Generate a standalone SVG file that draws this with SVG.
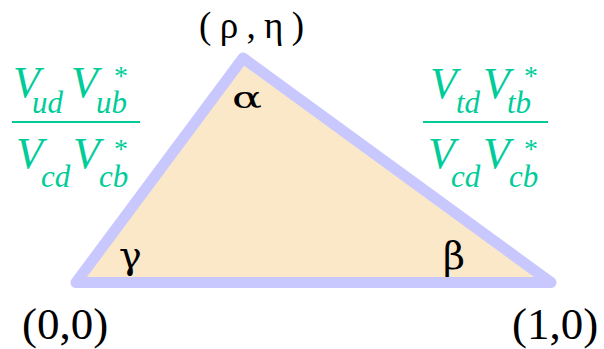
<svg xmlns="http://www.w3.org/2000/svg" width="604" height="349" viewBox="0 0 604 349">
<style>
.tri{fill:#fbe8c9;stroke:#c8c8ff;stroke-width:11;stroke-linejoin:round}
.lbl{font-family:"Liberation Serif","DejaVu Serif","Times New Roman",serif;fill:#000}
.gr{font-family:"DejaVu Serif","Liberation Serif",serif;fill:#000}
.v{font-family:"Liberation Serif","DejaVu Serif",serif;font-style:italic;fill:#00cc99;font-size:44px}
.s{font-family:"Liberation Serif","DejaVu Serif",serif;font-style:italic;fill:#00cc99;font-size:31px}
.st{font-family:"Liberation Serif","DejaVu Serif",serif;fill:#00cc99;font-size:28px}
.bar{stroke:#00cc99;stroke-width:2}
</style>
<rect width="604" height="349" fill="#fff"/>
<g id="triangle">
<polygon class="tri" points="76,282.5 243,58 551,282.5"/>
</g>
<g id="angles">
<text class="gr" x="232" y="108" font-size="30" textLength="30" lengthAdjust="spacingAndGlyphs">α</text>
<text class="gr" x="119" y="268" font-size="38">γ</text>
<text class="gr" x="443" y="269" font-size="38">β</text>
</g>
<g id="vertex-top"><text class="lbl" x="199" y="38" font-size="37" textLength="105" lengthAdjust="spacing">(ρ,η)</text></g>
<g id="vertex-left"><text class="lbl" x="22" y="339" font-size="45">(0,0)</text></g>
<g id="vertex-right"><text class="lbl" x="512" y="339" font-size="45">(1,0)</text></g>
<g id="ratio-left">
<text class="v" x="13" y="97">V</text>
<text class="s" x="32" y="113">ud</text>
<text class="v" x="71" y="97">V</text>
<text class="st" x="114" y="85">*</text>
<text class="s" x="96" y="113">ub</text>
<line class="bar" x1="12" y1="122" x2="140" y2="122"/>
<text class="v" x="16" y="168">V</text>
<text class="s" x="41" y="187">cd</text>
<text class="v" x="73" y="168">V</text>
<text class="st" x="114" y="158">*</text>
<text class="s" x="99" y="187">cb</text>
</g>
<g id="ratio-right">
<text class="v" x="430" y="98">V</text>
<text class="s" x="456" y="113">td</text>
<text class="v" x="483" y="98">V</text>
<text class="st" x="524" y="85">*</text>
<text class="s" x="507" y="113">tb</text>
<line class="bar" x1="423" y1="122" x2="548" y2="122"/>
<text class="v" x="428" y="168">V</text>
<text class="s" x="451" y="187">cd</text>
<text class="v" x="483" y="168">V</text>
<text class="st" x="524" y="158">*</text>
<text class="s" x="509" y="187">cb</text>
</g>
</svg>
